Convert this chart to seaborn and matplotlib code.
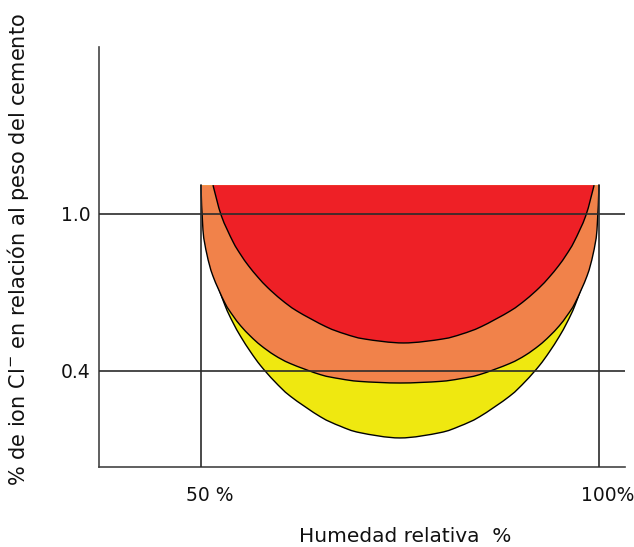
import matplotlib
matplotlib.use("Agg")
import matplotlib.pyplot as plt
import matplotlib.transforms as mtransforms
from matplotlib.path import Path
from matplotlib.patches import PathPatch
import seaborn as sns
import pandas as pd

# ---- data ----
# relative humidity (%) and lower boundary of each zone (% Cl- by cement weight)
rh_outer = [50, 50.25, 50.75, 51.5, 53, 54, 55, 56.25, 57.5, 59.25, 61.25, 65, 67.5, 70, 75,
            80, 82.5, 85, 88.75, 90.75, 92.5, 93.75, 95, 96, 97, 98.5, 99.25, 99.75, 100]
yellow_cl = [1.111, 0.974, 0.876, 0.781, 0.652, 0.586, 0.531, 0.472, 0.420, 0.360, 0.303, 0.225, 0.189, 0.164, 0.144,
             0.164, 0.189, 0.225, 0.303, 0.360, 0.420, 0.472, 0.531, 0.586, 0.652, 0.781, 0.876, 0.974, 1.111]
orange_cl = [1.111, 0.938, 0.845, 0.763, 0.660, 0.612, 0.572, 0.532, 0.498, 0.460, 0.428, 0.386, 0.370, 0.360, 0.354,
             0.360, 0.370, 0.386, 0.428, 0.460, 0.498, 0.532, 0.572, 0.612, 0.660, 0.763, 0.845, 0.938, 1.111]
rh_red = [51.51, 52.56, 54.02, 55.0, 55.97, 57.19, 58.4, 60.11, 62.06, 65.71, 68.14, 70.58, 75.45,
          80.32, 82.76, 85.19, 88.84, 90.79, 92.5, 93.71, 94.93, 95.9, 96.88, 98.34, 99.39]
red_cl = [1.11, 0.993, 0.894, 0.844, 0.802, 0.757, 0.718, 0.672, 0.629, 0.569, 0.541, 0.522, 0.507,
          0.522, 0.541, 0.569, 0.629, 0.672, 0.718, 0.757, 0.802, 0.844, 0.894, 0.993, 1.11]
zone_top = 1.11

x_ticks = [50, 100]
x_tick_labels = ["50 %", "100%"]
y_ticks = [0.4, 1.0]
y_tick_labels = ["0.4", "1.0"]
ref_rh = [50, 100]
ref_cl = [0.4, 1.0]

zone_colors = {"yellow": "#EFE810", "orange": "#F1824A", "red": "#EE2026"}


def smooth_path(xs, ys, top):
    """Smooth curve through the read points (Catmull-Rom drawn as Bezier), closed along the top."""
    pts = list(zip(xs, ys))
    ext = [pts[0]] + pts + [pts[-1]]
    verts = [pts[0]]
    codes = [Path.MOVETO]
    for i in range(1, len(ext) - 2):
        p0, p1, p2, p3 = ext[i - 1], ext[i], ext[i + 1], ext[i + 2]
        c1 = (p1[0] + (p2[0] - p0[0]) / 6, p1[1] + (p2[1] - p0[1]) / 6)
        c2 = (p2[0] - (p3[0] - p1[0]) / 6, p2[1] - (p3[1] - p1[1]) / 6)
        verts += [c1, c2, p2]
        codes += [Path.CURVE4] * 3
    curve = Path(verts, codes)
    closed = Path(verts + [(xs[-1], top), (xs[0], top), pts[0]],
                  codes + [Path.LINETO, Path.LINETO, Path.CLOSEPOLY])
    return curve, closed


# ---- figure ----
sns.set_theme(style="white")
plt.rcParams["font.family"] = ["DejaVu Sans"]

fig = plt.figure(figsize=(6.34, 5.47), dpi=100)
ax = fig.add_axes([99 / 634, 80 / 547, 526 / 634, 420 / 547])

zones = [("yellow", rh_outer, yellow_cl), ("orange", rh_outer, orange_cl), ("red", rh_red, red_cl)]
for z, (name, xs, ys) in enumerate(zones):
    curve, closed = smooth_path(xs, ys, zone_top)
    ax.add_patch(PathPatch(closed, facecolor=zone_colors[name], lw=0, zorder=1 + z))
    ax.add_patch(PathPatch(curve, facecolor="none", edgecolor="black", lw=1.0, zorder=1.5 + z))

line_col = "#2b2b2b"
ref_lines = pd.DataFrame(
    [{"x": r, "y": y, "line": f"v{r}"} for r in ref_rh for y in (0.0, zone_top)]
    + [{"x": x, "y": c, "line": f"h{c}"} for c in ref_cl for x in (30, 110)]
)
sns.lineplot(data=ref_lines, x="x", y="y", units="line", estimator=None, sort=False,
             color=line_col, lw=1.2, ax=ax, zorder=10, legend=False)

ax.set_xlim(37.19, 103.27)
ax.set_ylim(0.033, 1.638)

for s in ["top", "right"]:
    ax.spines[s].set_visible(False)
for s in ["left", "bottom"]:
    ax.spines[s].set_color("#444444")
    ax.spines[s].set_linewidth(1.2)

ax.set_xticks(x_ticks)
ax.set_xticklabels(x_tick_labels, fontsize=13.5)
ax.set_yticks(y_ticks)
ax.set_yticklabels(y_tick_labels, fontsize=13.5)
ax.tick_params(axis="both", length=0, colors="#111111")
ax.tick_params(axis="x", pad=14)
ax.tick_params(axis="y", pad=6)
offset = mtransforms.ScaledTranslation(6 / 72, 0, fig.dpi_scale_trans)
for lab in ax.get_xticklabels():
    lab.set_transform(lab.get_transform() + offset)

ax.set_xlabel("Humedad relativa  %", fontsize=14.5, color="#111111")
ax.set_ylabel("% de ion Cl$^{-}$ en relación al peso del cemento", fontsize=15, color="#111111")
ax.xaxis.set_label_coords((405 - 99) / 526, (467 - 527) / 420)
ax.yaxis.set_label_coords((31 - 99) / 526, (467 - 250) / 420)

fig.savefig("out.png", dpi=100)
